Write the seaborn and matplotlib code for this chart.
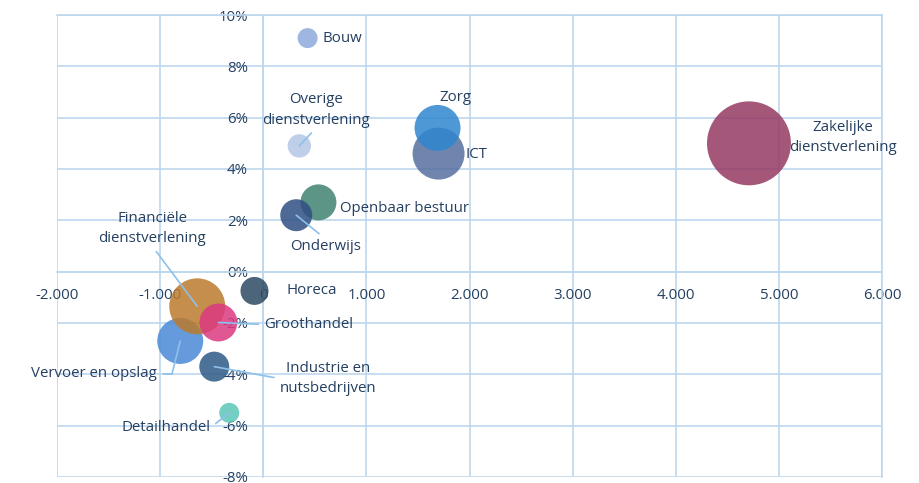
import pandas as pd
import numpy as np
import matplotlib
matplotlib.use("Agg")
import matplotlib.pyplot as plt
import seaborn as sns

# Data (groei banen absoluut vs. procentuele groei, bolgrootte = omvang sector)
sectoren = ["Zakelijke\ndienstverlening", "Bouw", "Overige\ndienstverlening", "ICT", "Zorg",
            "Openbaar bestuur", "Onderwijs", "Horeca", "Industrie en\nnutsbedrijven",
            "Detailhandel", "Vervoer en opslag", "Financiële\ndienstverlening", "Groothandel"]
groei_abs = [4710, 430, 350, 1700, 1690, 535, 320, -85, -475, -330, -805, -640, -435]
groei_pct = [5.0, 9.1, 4.9, 4.6, 5.6, 2.7, 2.2, -0.75, -3.7, -5.5, -2.7, -1.35, -1.98]
omvang = [1764, 100, 137, 676, 529, 324, 256, 196, 225, 100, 529, 784, 361]
kleuren = ["#953a63", "#8eaadb", "#b4c7e7", "#56709f", "#2f86cf", "#3f8370", "#2f4f84",
           "#2c4a63", "#2e5985", "#5cc6b8", "#4a8ad6", "#bb7a2c", "#dc3a82"]

# label offsets in pixels (dx, dy naar beneden), uitlijning, lijn
label_pos = [(94, -6, "center", None), (15, 0, "left", None), (17, -36, "center", (0.5, 0)),
             (27, 1, "left", None), (18, -30, "center", None), (22, 6, "left", None),
             (29, 31, "center", (0.5, 1)), (32, 0, "left", None), (114, 12, "center", (0, 0.5)),
             (-19, 15, "right", (1, 0.5)), (-23, 33, "right", (1, 0.5)),
             (-45, -78, "center", (0.5, 0)), (46, 2, "left", (0, 0.5))]

df = pd.DataFrame({"sector": sectoren, "x": groei_abs, "y": groei_pct, "omvang": omvang})

sns.set_style("white")
plt.rcParams["font.family"] = ["Open Sans", "DejaVu Sans"]
tekst_kleur = "#243f60"
raster = "#bdd7ee"

fig = plt.figure(figsize=(9.19, 4.83), dpi=100)
ax = fig.add_axes([57 / 919, 6 / 483, 825 / 919, 462 / 483])

# bolgrootte: oppervlakte evenredig met omvang
schaal = 2.07
sns.scatterplot(data=df, x="x", y="y", size="omvang", hue="sector", palette=kleuren,
                sizes=(schaal * min(omvang), schaal * max(omvang)),
                size_norm=(min(omvang), max(omvang)), alpha=0.85, linewidth=0,
                legend=False, ax=ax, zorder=3)

ax.set_xlim(-2000, 6000)
ax.set_ylim(-8, 10)
ax.set_xticks(np.arange(-2000, 6001, 1000))
ax.set_yticks(np.arange(-8, 10.1, 2))
ax.set_xticklabels([f"{v:,}".replace(",", ".") for v in range(-2000, 6001, 1000)])
ax.set_yticklabels([f"{int(v)}%" for v in np.arange(-8, 10.1, 2)])
ax.set_xlabel("")
ax.set_ylabel("")
ax.grid(True, color=raster, linewidth=1.2)
ax.set_axisbelow(True)
ax.spines["left"].set_position(("data", 0))
ax.spines["bottom"].set_position(("data", 0))
for sp in ax.spines.values():
    sp.set_color(raster)
    sp.set_linewidth(1.2)
ax.tick_params(axis="both", length=0, labelsize=10.8, labelcolor=tekst_kleur)
ax.tick_params(axis="x", pad=12)
ax.tick_params(axis="y", pad=11)

for i, naam in enumerate(sectoren):
    dx, dy, ha, rel = label_pos[i]
    props = None
    if rel is not None:
        props = dict(arrowstyle="-", color="#8dc0ea", lw=1.2, relpos=rel,
                     shrinkA=2, shrinkB=0)
        if naam == "Vervoer en opslag":
            props["connectionstyle"] = "angle,angleA=0,angleB=76,rad=0"
    ax.annotate(naam, xy=(groei_abs[i], groei_pct[i]), xytext=(dx, -dy),
                textcoords="offset pixels", ha=ha, va="center", fontsize=10.8,
                color=tekst_kleur, linespacing=1.5, arrowprops=props, zorder=4)

fig.savefig("out.png", dpi=100)
